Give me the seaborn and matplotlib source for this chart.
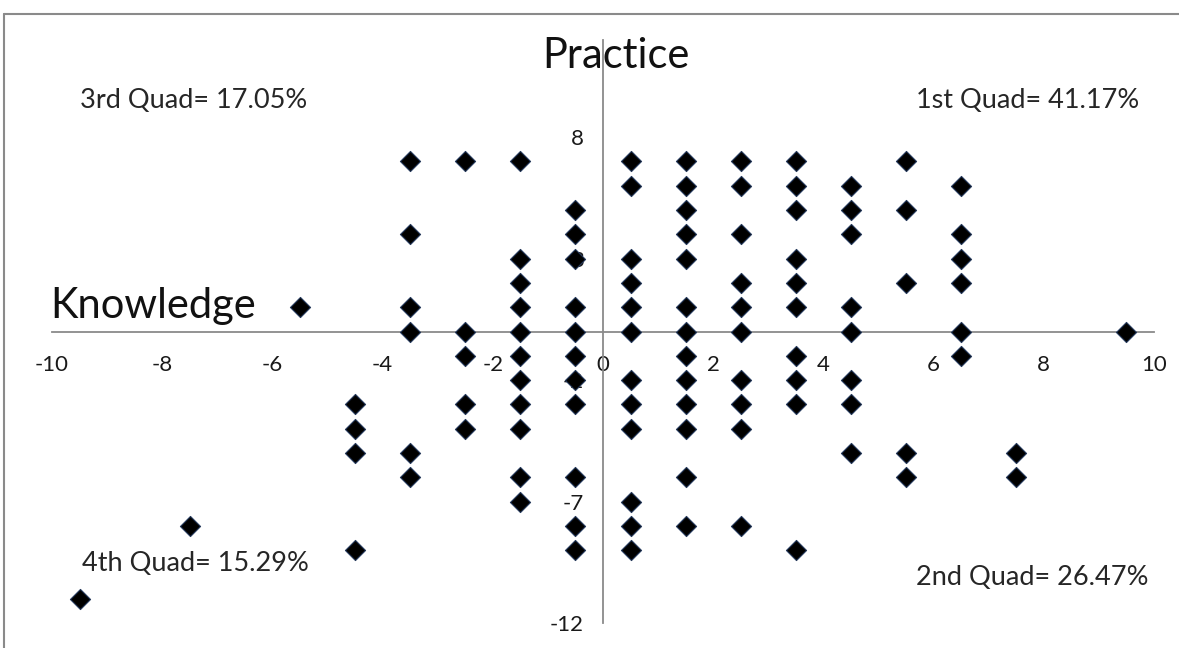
import numpy as np
import pandas as pd
import matplotlib
matplotlib.use("Agg")
import matplotlib.pyplot as plt
import seaborn as sns
from matplotlib.lines import Line2D

# knowledge score (x) columns and the practice scores (y) seen in each column
knowledge_cols = [-9.5, -7.5, -5.5, -4.5, -3.5, -2.5, -1.5, -0.5,
                  0.5, 1.5, 2.5, 3.5, 4.5, 5.5, 6.5, 7.5, 9.5]
practice_by_col = [
    [-11],
    [-8],
    [1],
    [-3, -4, -5, -9],
    [7, 4, 1, 0, -5, -6],
    [7, 0, -1, -3, -4],
    [7, 3, 2, 1, 0, -1, -2, -3, -4, -6, -7],
    [5, 4, 3, 1, 0, -1, -2, -3, -6, -8, -9],
    [7, 6, 3, 2, 1, 0, -2, -3, -4, -7, -8, -9],
    [7, 6, 5, 4, 3, 1, 0, -1, -2, -3, -4, -6, -8],
    [7, 6, 4, 2, 1, 0, -2, -3, -4, -8],
    [7, 6, 5, 3, 2, 1, -1, -2, -3, -9],
    [6, 5, 4, 1, 0, -2, -3, -5],
    [7, 5, 2, -5, -6],
    [6, 4, 3, 2, 0, -1],
    [-5, -6],
    [0],
]

quad_labels = ["1st Quad= 41.17%", "2nd Quad= 26.47%",
               "3rd Quad= 17.05%", "4th Quad= 15.29%"]
x_ticks = list(range(-10, 11, 2))
y_ticks = [-12, -7, -2, 3, 8]

rows = []
for kx, ys in zip(knowledge_cols, practice_by_col):
    for py in ys:
        rows.append({"Knowledge": kx, "Practice": py})
df = pd.DataFrame(rows)

sns.set_style("white")
plt.rcParams['font.family'] = ['Lato', 'DejaVu Sans']
plt.rcParams['axes.unicode_minus'] = False

W, H = 1179, 648
fig = plt.figure(figsize=(W / 100, H / 100), dpi=100)
ax = fig.add_axes([52 / W, 1 - 623 / H, (1154 - 52) / W, (623 - 40) / H])

sns.scatterplot(data=df, x="Knowledge", y="Practice", marker="D", s=105,
                color="black", edgecolor="#23375a", linewidth=0.8,
                ax=ax, legend=False, zorder=3, clip_on=False)

ax.set_xlim(-10, 10)
ax.set_ylim(-12, 12)
ax.set_xticks(x_ticks)
ax.set_yticks(y_ticks)
ax.set_xlabel("")
ax.set_ylabel("")

axis_grey = "#8a8a8a"
for side in ["top", "right"]:
    ax.spines[side].set_visible(False)
ax.spines["left"].set_position(("data", 0))
ax.spines["bottom"].set_position(("data", 0))
for side in ["left", "bottom"]:
    ax.spines[side].set_color(axis_grey)
    ax.spines[side].set_linewidth(1.3)

ax.tick_params(axis="x", direction="out", length=6, width=1.3, color=axis_grey,
               pad=11, labelsize=16, labelcolor="#1a1a1a")
ax.tick_params(axis="y", direction="out", length=5, width=1.3, color=axis_grey,
               pad=9, labelsize=16, labelcolor="#1a1a1a")
ax.patch.set_alpha(0)

# axis titles and quadrant notes
fig.text(542 / W, 1 - 68 / H, "Practice", fontsize=30, color="#111111",
         ha="left", va="baseline")
fig.text(50 / W, 1 - 318 / H, "Knowledge", fontsize=30, color="#111111",
         ha="left", va="baseline")
fig.text(916 / W, 1 - 108 / H, quad_labels[0], fontsize=19.5, ha="left", va="baseline")
fig.text(916 / W, 1 - 585 / H, quad_labels[1], fontsize=19.5, ha="left", va="baseline")
fig.text(80 / W, 1 - 108 / H, quad_labels[2], fontsize=19.5, ha="left", va="baseline")
fig.text(82 / W, 1 - 571 / H, quad_labels[3], fontsize=19.5, ha="left", va="baseline")

# chart-area frame (top and left edges visible in the crop)
fig.add_artist(Line2D([4 / W, 1], [1 - 14 / H, 1 - 14 / H], color=axis_grey, lw=1.5))
fig.add_artist(Line2D([4 / W, 4 / W], [0, 1 - 14 / H], color=axis_grey, lw=1.5))

fig.savefig("out.png", dpi=100)
